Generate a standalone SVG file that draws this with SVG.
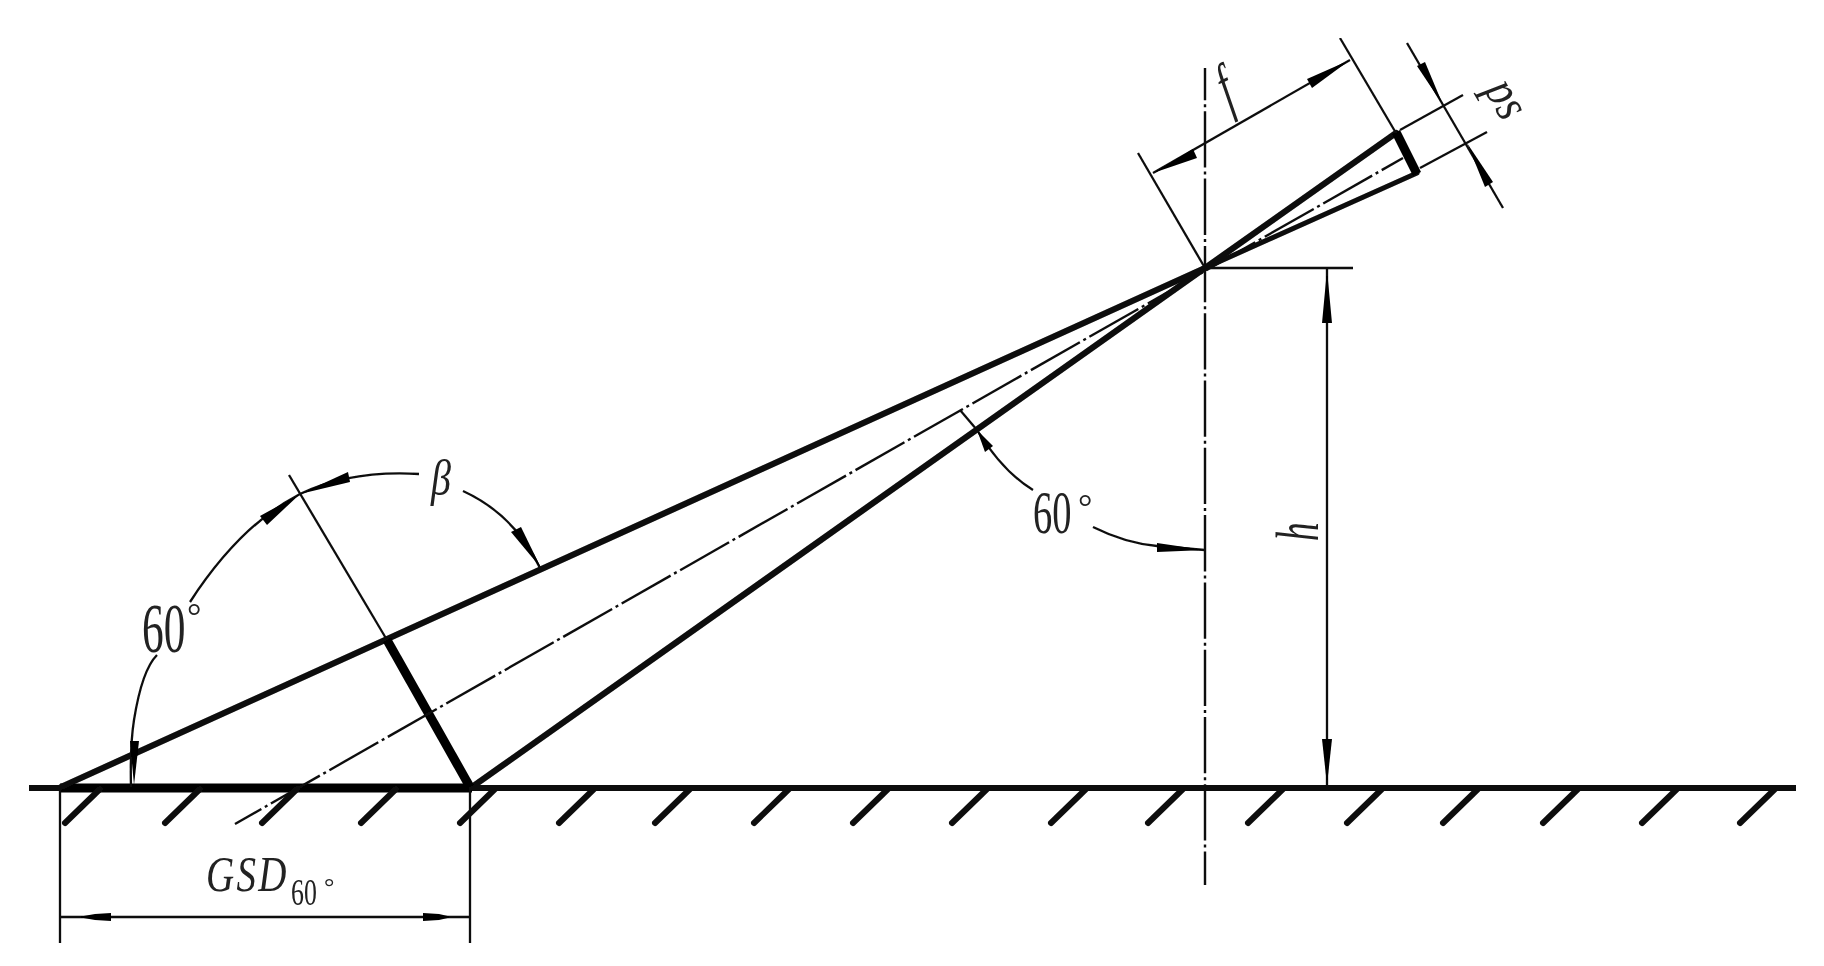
<svg xmlns="http://www.w3.org/2000/svg" width="1824" height="966" viewBox="0 0 1824 966">
<style>
.thin{fill:none;stroke:#111;stroke-width:2.3}
.body{fill:none;stroke:#0a0a0a;stroke-width:6.2;stroke-linecap:round}
.thick{fill:none;stroke:#000;stroke-width:9}
.hatch{fill:none;stroke:#0a0a0a;stroke-width:6;stroke-linecap:round}
.center{fill:none;stroke:#111;stroke-width:2.4;stroke-dasharray:56.3 4 3 4}
.head{fill:#000;stroke:none}
text{fill:#222;font-family:"Liberation Serif","DejaVu Serif",serif}
.it{font-style:italic}
</style>
<defs><filter id="soft" x="0" y="0" width="100%" height="100%"><feGaussianBlur stdDeviation="0.6"/></filter></defs>
<rect width="1824" height="966" fill="#fff"/>
<g filter="url(#soft)">
<g id="ground">
<line class="body" x1="29" y1="788" x2="1796" y2="788"/>
<line class="thick" x1="60" y1="788" x2="472" y2="788"/>
<path class="hatch" d="M65 823L100 789M165 823L200 789M262 823L297 789M361 823L396 789M460 823L495 789M559 823L594 789M655 823L690 789M754 823L789 789M853 823L888 789M952 823L987 789M1051 823L1086 789M1148 823L1183 789M1248 823L1283 789M1347 823L1382 789M1443 823L1478 789M1543 823L1578 789M1642 823L1677 789M1740 823L1775 789"/>
</g>
<g id="optics">
<line class="body" x1="61" y1="787" x2="1205" y2="268"/>
<line class="body" x1="472" y1="787" x2="1205" y2="268"/>
<line class="thick" x1="387" y1="640" x2="470" y2="787"/>
<line class="body" x1="1205" y1="268" x2="1396" y2="133"/>
<line class="body" x1="1205" y1="268" x2="1417" y2="173" style="stroke-width:5"/>
<line class="thick" x1="1396" y1="132" x2="1417" y2="174"/>
</g>
<g id="center-lines">
<line class="center" x1="1205" y1="68" x2="1205" y2="885" stroke-dashoffset="24"/>
<line class="center" x1="1403" y1="158" x2="235" y2="824" stroke-dashoffset="31.8"/>
</g>
<g id="connectors">
<line class="thin" x1="60" y1="788" x2="60" y2="943"/>
<line class="thin" x1="470" y1="788" x2="470" y2="943"/>
<line class="thin" x1="60" y1="917" x2="470" y2="917"/>
<polygon class="head" points="78,917 95,914 111,913 111,921 95,920"/>
<polygon class="head" points="452,917 439,914 423,913 423,921 439,920"/>
<line class="thin" x1="1205" y1="268" x2="1353" y2="268"/>
<line class="thin" x1="1327" y1="268" x2="1327" y2="787"/>
<polygon class="head" points="1327,270 1332,323 1322,323"/>
<polygon class="head" points="1327,785 1322,739 1332,739"/>
<line class="thin" x1="1138" y1="153" x2="1205" y2="268"/>
<line class="thin" x1="1340" y1="38" x2="1396" y2="133"/>
<line class="thin" x1="1153" y1="173" x2="1350" y2="60"/>
<polygon class="head" points="1153,173 1193,149 1197,158"/>
<polygon class="head" points="1350,60 1307,79 1312,88"/>
<line class="thin" x1="1400" y1="130" x2="1463" y2="95"/>
<line class="thin" x1="1420" y1="168" x2="1487" y2="132"/>
<line class="thin" x1="1407" y1="43" x2="1503" y2="208"/>
<polygon class="head" points="1443,105 1417,66 1425,62"/>
<polygon class="head" points="1467,143 1493,182 1485,187"/>
<line class="thin" x1="960" y1="410" x2="977" y2="430"/>
<path class="thin" d="M977 430Q1003 472 1033 490"/>
<polygon class="head" points="977,430 993,446 985,452"/>
<path class="thin" d="M1093 527Q1125 543 1157 546L1205 550"/>
<polygon class="head" points="1205,550 1157,543 1157,552"/>
<path class="thin" d="M131 787Q130 745 134 720Q142 670 157 655"/>
<polygon class="head" points="134,785 130,741 139,741"/>
<path class="thin" d="M190 602Q240 525 300 494Q350 470 419 474"/>
<polygon class="head" points="300,494 267,525 260,516"/>
<polygon class="head" points="300,494 348,472 350,482"/>
<path class="thin" d="M463 491Q515 515 540 568"/>
<polygon class="head" points="541,568 511,532 521,527"/>
<line class="thin" x1="289" y1="475" x2="387" y2="640"/>
</g>
<g id="labels">
<text transform="translate(142 652) scale(0.62 1)" font-size="70">60</text>
<text x="187" y="628" font-size="36">°</text>
<text transform="translate(1033 533) scale(0.62 1)" font-size="62">60</text>
<text x="1078" y="519" font-size="36">°</text>
<text class="it" transform="translate(431 495) scale(0.8 1)" font-size="50">β</text>
<text class="it" transform="translate(206 891) scale(0.78 1)" font-size="50" letter-spacing="3">GSD</text>
<text transform="translate(291 905) scale(0.68 1)" font-size="38">60</text>
<text x="324" y="895" font-size="26">°</text>
<text class="it" transform="translate(1229 110) rotate(-25) scale(0.6 1)" font-size="66">f</text>
<text class="it" transform="translate(1318 541) rotate(-90) scale(0.6 1)" font-size="62">h</text>
<text class="it" transform="translate(1484 90) rotate(60) scale(0.85 1)" font-size="50">ps</text>
</g>
</g>
</svg>
